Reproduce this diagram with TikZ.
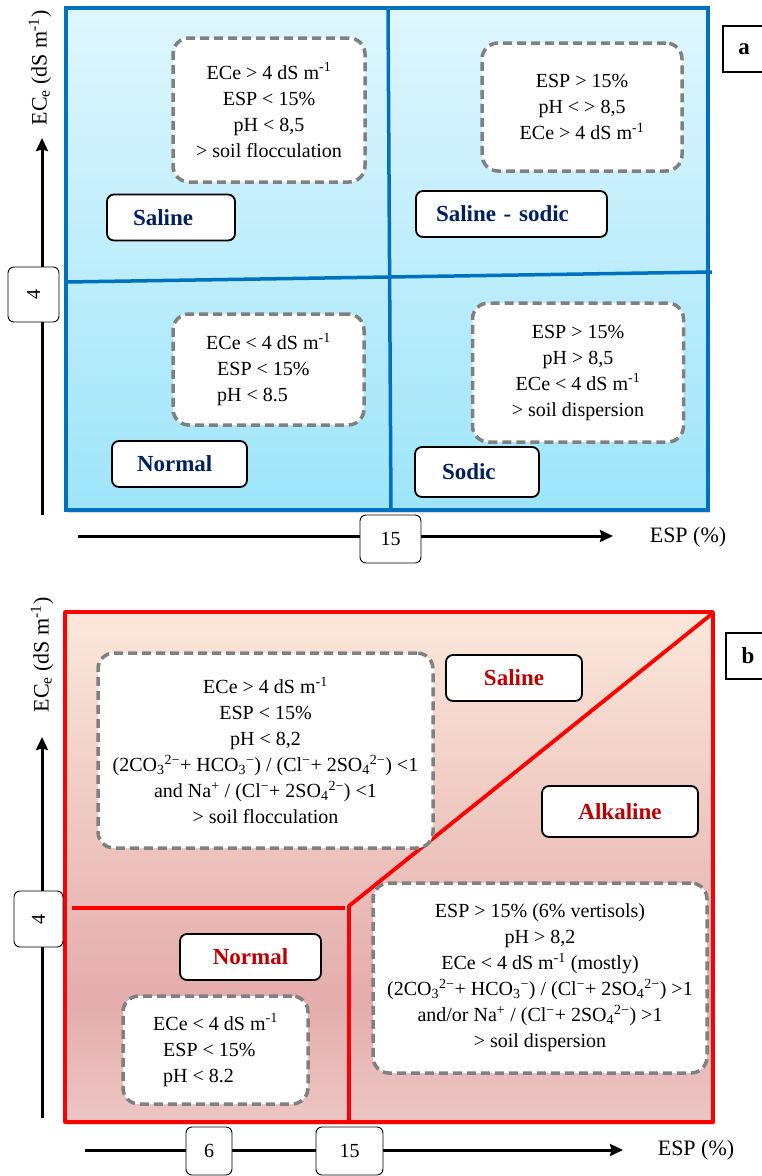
\documentclass[tikz,border=0pt]{standalone}
\usepackage{fontspec}
\setmainfont{Liberation Serif}
\usetikzlibrary{shadows, arrows.meta}
\definecolor{gridblue}{RGB}{0,112,192}
\definecolor{cyantop}{RGB}{223,246,253}
\definecolor{cyanbot}{RGB}{158,229,250}
\definecolor{peachtop}{RGB}{251,232,218}
\definecolor{rosemid}{RGB}{228,172,172}
\definecolor{rosebot}{RGB}{236,198,196}
\definecolor{dashgray}{RGB}{128,128,128}
\definecolor{navytext}{RGB}{0,32,96}
\definecolor{redtext}{RGB}{192,0,0}
\pgfdeclareverticalshading{rosepanel}{100bp}{color(0bp)=(rosebot); color(25bp)=(rosebot); color(37bp)=(rosemid); color(75bp)=(peachtop); color(100bp)=(peachtop)}
\begin{document}
\begin{tikzpicture}[x=1pt, y=-1pt, >={Stealth[length=13pt, width=12pt, inset=1.5pt]},
    every node/.style={font=\fontsize{20}{26}\selectfont},
    condbox/.style={draw=dashgray, dash pattern=on 9pt off 5pt, line width=3.5pt, fill=white, rounded corners=16pt, align=center, inner sep=0pt},
    tagbox/.style={draw, line width=1.8pt, fill=white, rounded corners=7pt, minimum height=46pt, align=center, inner sep=0pt, font=\fontsize{23}{26}\selectfont\bfseries},
    tickbox/.style={draw, line width=0.9pt, fill=white, rounded corners=6pt, inner sep=0pt},
    panelbox/.style={draw, line width=1.8pt, fill=white, inner sep=0pt, minimum height=46pt, font=\fontsize{23}{26}\selectfont\bfseries},
    axisarrow/.style={draw=black, line width=3pt, ->},
    axislabel/.style={font=\fontsize{22}{26}\selectfont},
    bluegrid/.style={draw=gridblue, line width=3.5pt},
    redgrid/.style={draw=red, line width=3.8pt, line join=round}]
    \useasboundingbox (0,0) rectangle (762,1176);

    % panel a
    \shade[top color=cyantop, bottom color=cyanbot, drop shadow={shadow xshift=2pt, shadow yshift=-3pt, opacity=0.3}] (66,8) rectangle (708,510);
    \draw[bluegrid] (388,8) -- (391,510);
    \draw[bluegrid] (66,282) -- (712,272);
    \draw[bluegrid] (66,8) rectangle (708,510);

    \coordinate (aorigin) at (42,515);
    \coordinate (atop) at (42,138);
    \coordinate (aleft) at (78,536);
    \coordinate (aright) at (613,536);
    \draw[axisarrow] (aorigin) -- (atop);
    \draw[axisarrow] (aleft) -- (aright);
    \node[axislabel, rotate=90] (aecelabel) at (40,68) {EC\textsubscript{e} (dS m\textsuperscript{-1})};
    \node[axislabel] (aesplabel) at (688,537) {ESP (\%)};
    \node[tickbox, rotate=90, minimum width=55pt, minimum height=51pt] (afour) at (33.5,294.5) {4};
    \node[tickbox, minimum width=61pt, minimum height=48pt] (afifteen) at (390.5,539) {15};
    \node[panelbox, minimum width=42pt] (apanel) at (744,49) {a};

    \node[condbox, minimum width=192pt, minimum height=144pt] (asalinecond) at (269,110) {ECe > 4 dS m\textsuperscript{-1}\\ESP < 15\%\\pH < 8,5\\> soil flocculation};
    \node[condbox, minimum width=200pt, minimum height=128pt] (asalsodcond) at (582,107) {ESP > 15\%\\pH < > 8,5\\ECe > 4 dS m\textsuperscript{-1}};
    \node[condbox, align=left, minimum width=191pt, minimum height=111pt] (anormalcond) at (268.5,369.5) {ECe < 4 dS m\textsuperscript{-1}\\\hspace*{11pt}ESP < 15\%\\\hspace*{11pt}pH < 8.5};
    \node[condbox, minimum width=211pt, minimum height=139pt] (asodiccond) at (578,372.5) {ESP > 15\%\\pH > 8,5\\ECe < 4 dS m\textsuperscript{-1}\\> soil dispersion};

    \node[tagbox, text=navytext, align=left, minimum width=128pt, text width=76pt] (asalinetag) at (171,217.5) {Saline};
    \node[tagbox, text=navytext, align=left, minimum width=191pt, text width=151pt] (asalsodtag) at (511.5,214) {Saline - sodic};
    \node[tagbox, text=navytext, align=left, minimum width=135pt, text width=85pt] (anormaltag) at (179.5,464) {Normal};
    \node[tagbox, text=navytext, align=left, minimum width=124pt, minimum height=50pt, text width=70pt] (asodictag) at (477,472) {Sodic};

    % panel b
    \shade[shading=rosepanel, drop shadow={shadow xshift=2pt, shadow yshift=-3pt, opacity=0.3}] (65,612) rectangle (713,1122);
    \draw[redgrid] (72,908) -- (345,908);
    \draw[redgrid] (349,1122) -- (349,906) -- (713,613);
    \draw[redgrid] (65,612) rectangle (713,1122);

    \coordinate (borigin) at (42,1118);
    \coordinate (btop) at (42,737);
    \coordinate (bleft) at (85,1150);
    \coordinate (bright) at (623,1150);
    \draw[axisarrow] (borigin) -- (btop);
    \draw[axisarrow] (bleft) -- (bright);
    \node[axislabel, rotate=90] (becelabel) at (42,655) {EC\textsubscript{e} (dS m\textsuperscript{-1})};
    \node[axislabel] (besplabel) at (696,1150) {ESP (\%)};
    \node[tickbox, rotate=90, minimum width=56pt, minimum height=49pt] (bfour) at (38.5,919) {4};
    \node[tickbox, minimum width=46pt, minimum height=48pt] (bsix) at (209,1151) {6};
    \node[tickbox, minimum width=67pt, minimum height=48pt] (bfifteen) at (349.5,1151) {15};
    \node[panelbox, minimum width=44pt] (bpanel) at (748,656) {b};

    \node[condbox, minimum width=335pt, minimum height=195pt] (bsalinecond) at (265.5,750.5) {ECe > 4 dS m\textsuperscript{-1}\\ESP < 15\%\\pH < 8,2\\(2CO\textsubscript{3}\textsuperscript{2−}+ HCO\textsubscript{3}\textsuperscript{−}) / (Cl\textsuperscript{−}+ 2SO\textsubscript{4}\textsuperscript{2−}) <1\\and Na\textsuperscript{+} / (Cl\textsuperscript{−}+ 2SO\textsubscript{4}\textsuperscript{2−}) <1\\> soil flocculation};
    \node[condbox, minimum width=334pt, minimum height=190pt] (balkcond) at (540,978) {ESP > 15\% (6\% vertisols)\\pH > 8,2\\ECe < 4 dS m\textsuperscript{-1} (mostly)\\(2CO\textsubscript{3}\textsuperscript{2−}+ HCO\textsubscript{3}\textsuperscript{−}) / (Cl\textsuperscript{−}+ 2SO\textsubscript{4}\textsuperscript{2−}) >1\\and/or Na\textsuperscript{+} / (Cl\textsuperscript{−}+ 2SO\textsubscript{4}\textsuperscript{2−}) >1\\> soil dispersion};
    \node[condbox, align=left, minimum width=185pt, minimum height=108pt] (bnormalcond) at (215.5,1050) {ECe < 4 dS m\textsuperscript{-1}\\\hspace*{10pt}ESP < 15\%\\\hspace*{10pt}pH < 8.2};

    \node[tagbox, text=redtext, minimum width=136pt] (bsalinetag) at (514,678) {Saline};
    \node[tagbox, text=redtext, minimum width=156pt, minimum height=51pt] (balktag) at (620,811.5) {Alkaline};
    \node[tagbox, text=redtext, minimum width=141pt] (bnormaltag) at (250.5,957) {Normal};
\end{tikzpicture}
\end{document}
